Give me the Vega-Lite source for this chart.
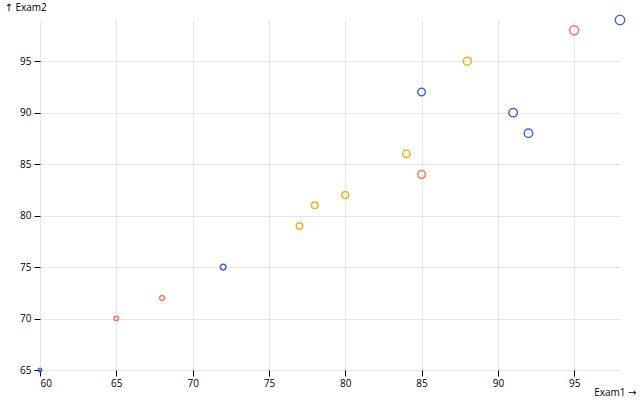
{
  "$schema": "https://vega.github.io/schema/vega-lite/v6.json",
  "width": 580,
  "height": 350,
  "autosize": {"type": "none"},
  "padding": {"left": 40, "top": 20, "right": 20, "bottom": 30},
  "background": "white",
  "config": {
    "view": {"stroke": null},
    "font": "Open Sans, DejaVu Sans",
    "axis": {
      "labelFont": "Open Sans, DejaVu Sans",
      "titleFont": "Open Sans, DejaVu Sans",
      "labelFontSize": 10,
      "titleFontSize": 10,
      "titleFontWeight": "normal",
      "labelColor": "black",
      "titleColor": "black",
      "tickColor": "black",
      "tickSize": 6,
      "domain": false,
      "gridColor": "black",
      "gridOpacity": 0.09,
      "grid": true
    }
  },
  "data": {
    "values": [
      {"Exam1": 60, "Exam2": 65, "Group": "A"},
      {"Exam1": 65, "Exam2": 70, "Group": "C"},
      {"Exam1": 68, "Exam2": 72, "Group": "C"},
      {"Exam1": 72, "Exam2": 75, "Group": "A"},
      {"Exam1": 77, "Exam2": 79, "Group": "B"},
      {"Exam1": 78, "Exam2": 81, "Group": "B"},
      {"Exam1": 80, "Exam2": 82, "Group": "B"},
      {"Exam1": 84, "Exam2": 86, "Group": "B"},
      {"Exam1": 85, "Exam2": 84, "Group": "C"},
      {"Exam1": 85, "Exam2": 92, "Group": "A"},
      {"Exam1": 88, "Exam2": 95, "Group": "B"},
      {"Exam1": 91, "Exam2": 90, "Group": "A"},
      {"Exam1": 92, "Exam2": 88, "Group": "A"},
      {"Exam1": 95, "Exam2": 98, "Group": "C"},
      {"Exam1": 98, "Exam2": 99, "Group": "A"}
    ]
  },
  "mark": {"type": "point", "shape": "circle", "filled": false, "strokeWidth": 1.5, "opacity": 1},
  "encoding": {
    "x": {
      "field": "Exam1",
      "type": "quantitative",
      "scale": {"domain": [60, 98], "nice": false, "zero": false},
      "axis": {
        "values": [60, 65, 70, 75, 80, 85, 90, 95],
        "labelPadding": 2,
        "title": "Exam1 →",
        "titleAngle": 0,
        "titleAlign": "right",
        "titleBaseline": "top",
        "titleX": 596,
        "titleY": 17
      }
    },
    "y": {
      "field": "Exam2",
      "type": "quantitative",
      "scale": {"domain": [65, 99], "nice": false, "zero": false},
      "axis": {
        "values": [65, 70, 75, 80, 85, 90, 95],
        "labelPadding": 3,
        "title": "↑ Exam2",
        "titleAngle": 0,
        "titleAlign": "left",
        "titleBaseline": "top",
        "titleX": -36,
        "titleY": -18
      }
    },
    "color": {
      "field": "Group",
      "type": "nominal",
      "scale": {"domain": ["A", "B", "C"], "range": ["#4269d0", "#efb118", "#ff725c"]},
      "legend": null
    },
    "size": {
      "field": "Exam1",
      "type": "quantitative",
      "scale": {"type": "pow", "exponent": 2, "domain": [60, 98], "range": [12.6, 88], "zero": false},
      "legend": null
    }
  }
}
